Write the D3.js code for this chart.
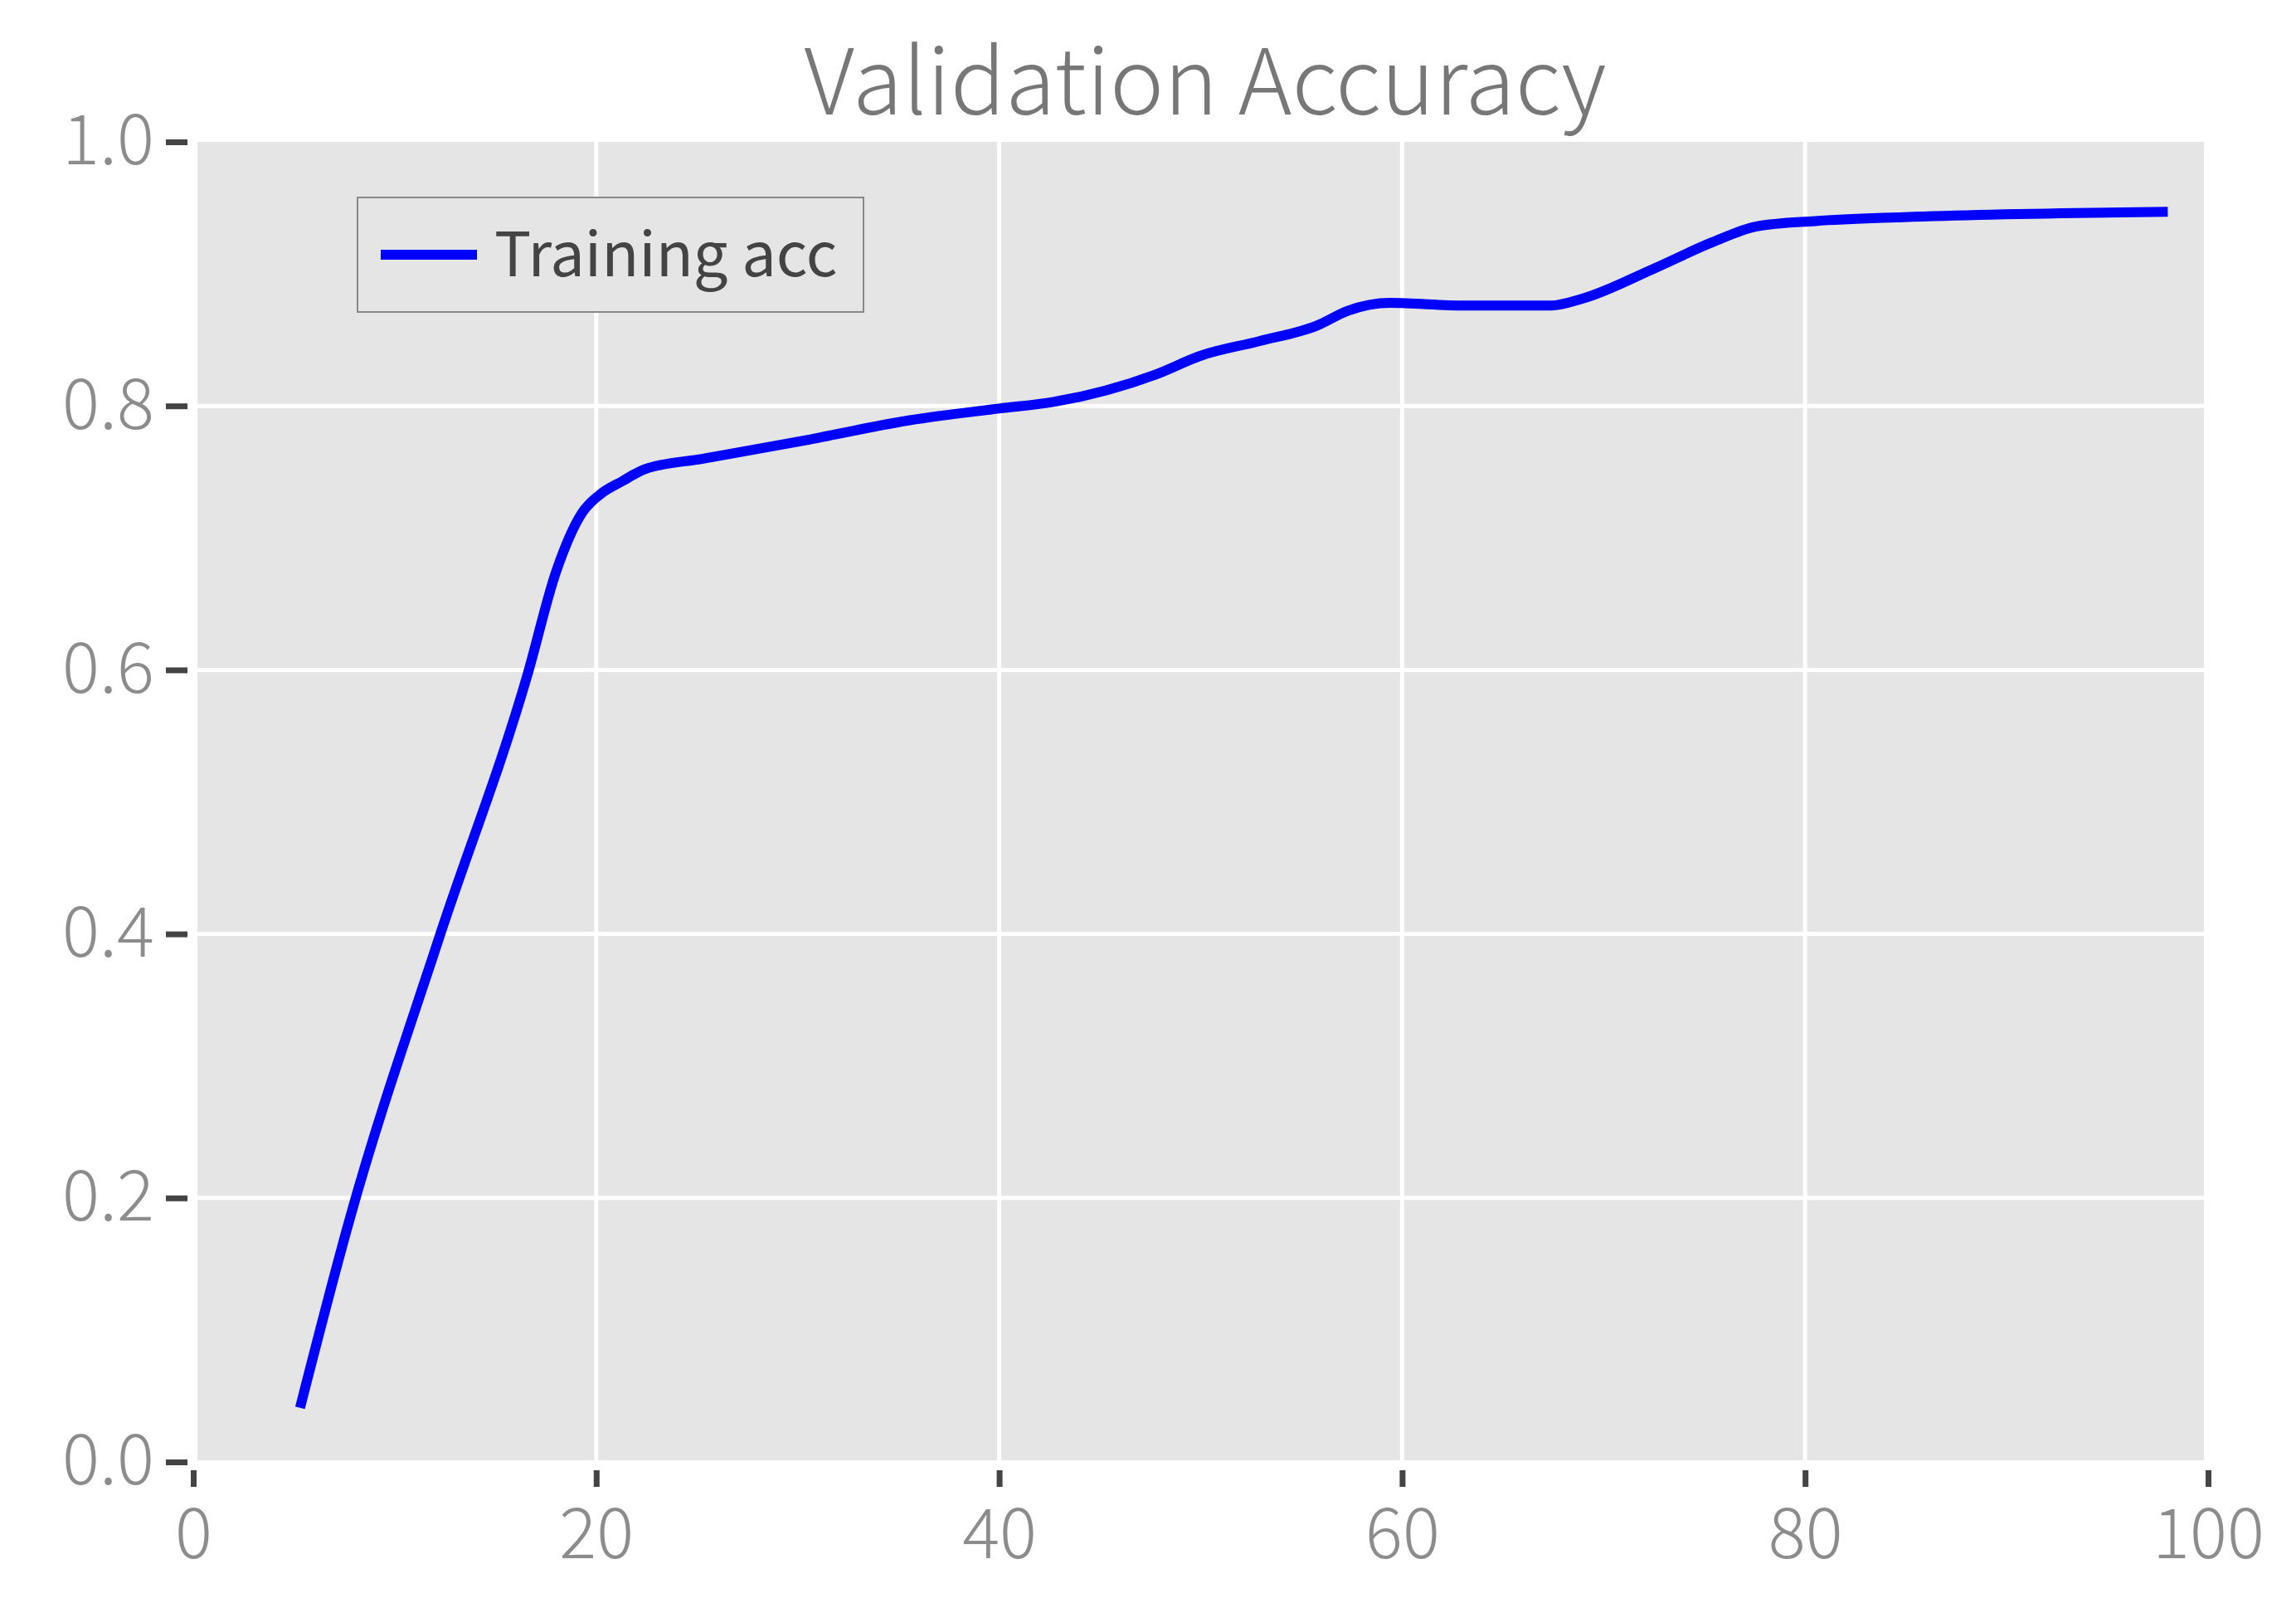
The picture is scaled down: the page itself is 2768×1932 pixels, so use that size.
<!DOCTYPE html>
<html>
<head>
<meta charset="utf-8">
<script src="https://cdn.jsdelivr.net/npm/d3@7"></script>
<style>
  body { margin: 0; background: #fff; }
  text { font-family: "Noto Sans CJK JP", "Noto Sans", sans-serif; }
</style>
</head>
<body>
<svg id="chart" width="2768" height="1932"></svg>
<script>
const epochs = [5.3, 7.8, 12.2, 16.6, 18.0, 19.3, 20.2, 21.3, 22.4, 25.3, 30.4, 35.5, 40, 42.7, 47.8, 50, 52.9, 55.8, 57.3, 59.4, 63.1, 67.4, 68.9, 72.5, 75.4, 77.6, 80.5, 84.9, 98];
const trainingAcc = [0.041, 0.186, 0.397, 0.597, 0.674, 0.719, 0.733, 0.743, 0.752, 0.76, 0.774, 0.789, 0.798, 0.803, 0.824, 0.838, 0.849, 0.861, 0.872, 0.878, 0.876, 0.876, 0.881, 0.904, 0.924, 0.936, 0.94, 0.943, 0.947];
const xTicks = [0, 20, 40, 60, 80, 100];
const yTicks = [0, 0.2, 0.4, 0.6, 0.8, 1.0];

const chart = d3.select("#chart");
const x = d3.scaleLinear().domain([0, 100]).range([233, 2662]);
const y = d3.scaleLinear().domain([0, 1]).range([1762, 171]);

// panel background
chart.append("rect")
  .attr("x", 238).attr("y", 171)
  .attr("width", 2657 - 238).attr("height", 1760 - 171)
  .attr("fill", "#e5e5e5");

// grid
chart.selectAll(".gx").data(xTicks.slice(1, -1)).enter().append("line")
  .attr("x1", d => x(d)).attr("x2", d => x(d))
  .attr("y1", 171).attr("y2", 1760)
  .attr("stroke", "#fff").attr("stroke-width", 5);
chart.selectAll(".gy").data(yTicks.slice(1, -1)).enter().append("line")
  .attr("x1", 238).attr("x2", 2657)
  .attr("y1", d => y(d)).attr("y2", d => y(d))
  .attr("stroke", "#fff").attr("stroke-width", 5);

// axes
const xAxis = d3.axisBottom(x).tickValues(xTicks).tickSize(20).tickPadding(26).tickFormat(d3.format("d"));
const yAxis = d3.axisLeft(y).tickValues(yTicks).tickSize(26).tickPadding(14).tickFormat(d3.format(".1f"));

const gx = chart.append("g").attr("transform", "translate(0,1772)").call(xAxis);
const gy = chart.append("g").attr("transform", "translate(226,0)").call(yAxis);
[gx, gy].forEach(g => {
  g.select(".domain").remove();
  g.selectAll(".tick line").attr("stroke", "#444").attr("stroke-width", 7);
  g.selectAll(".tick text").attr("fill", "#8c8c8c").style("font-size", "84px").style("font-weight", 300);
});

// line
const line = d3.line().x((d, i) => x(epochs[i])).y(d => y(d)).curve(d3.curveMonotoneX);
chart.append("path")
  .datum(trainingAcc)
  .attr("d", line)
  .attr("fill", "none")
  .attr("stroke", "#0000ff")
  .attr("stroke-width", 12);

// title
chart.append("text")
  .attr("x", 1453).attr("y", 138)
  .attr("text-anchor", "middle")
  .attr("fill", "#777")
  .style("font-size", "110px")
  .style("font-weight", 300)
  .text("Validation Accuracy");

// legend
chart.append("rect")
  .attr("x", 431).attr("y", 238)
  .attr("width", 610).attr("height", 138)
  .attr("fill", "#e5e5e5").attr("stroke", "#888").attr("stroke-width", 2);
chart.append("line")
  .attr("x1", 459).attr("x2", 575)
  .attr("y1", 307).attr("y2", 307)
  .attr("stroke", "#0000ff").attr("stroke-width", 12);
chart.append("text")
  .attr("x", 596).attr("y", 333)
  .attr("fill", "#444")
  .style("font-size", "74px")
  .text("Training acc");
</script>
</body>
</html>
